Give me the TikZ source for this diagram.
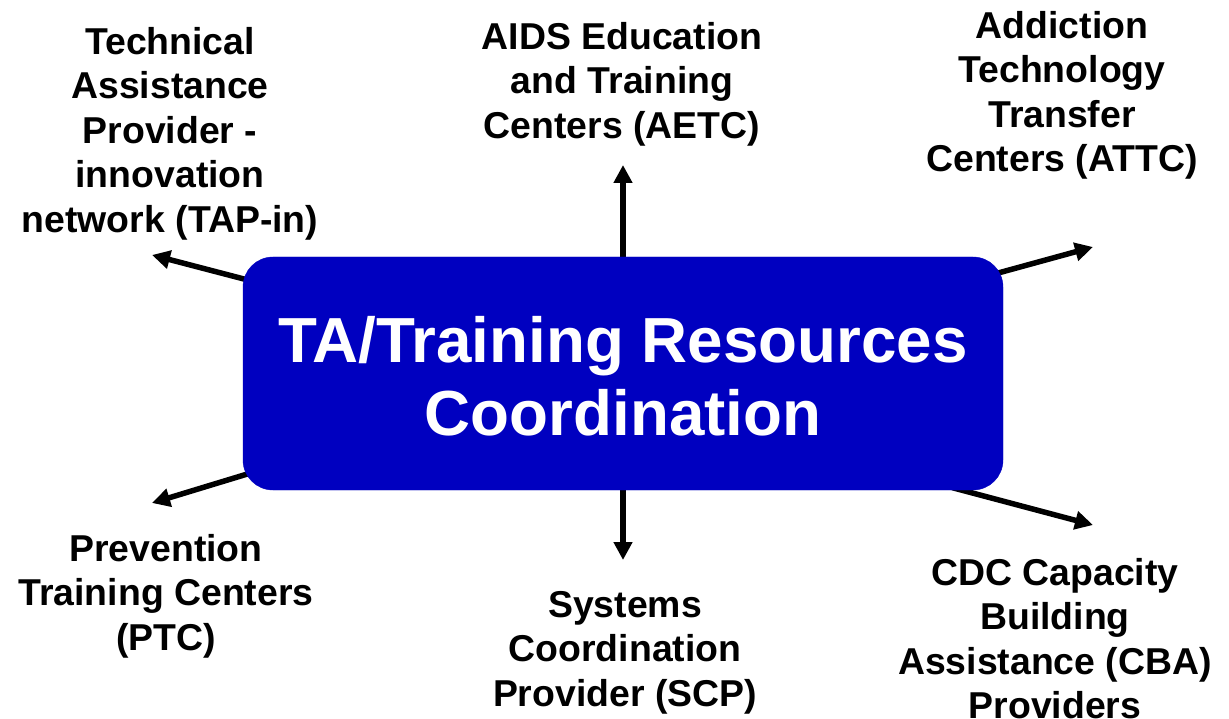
\documentclass[tikz,border=0pt]{standalone}
\usepackage{fontspec}
\setmainfont{Liberation Sans}
\usetikzlibrary{arrows.meta,backgrounds}
\definecolor{hubblue}{RGB}{0,0,192}

\tikzset{
  hubmap/.style={
    x=1pt, y=-1pt,
    every node/.style={inner sep=0pt, align=center, anchor=north,
        font=\fontsize{37.4}{44.5}\selectfont\bfseries},
    hub/.style={
        anchor=center,
        fill=hubblue,
        draw=hubblue,
        rounded corners=30pt,
        minimum width=760pt,
        minimum height=233pt,
        text height=125pt,
        text=white,
        font=\fontsize{63.7}{73}\selectfont\bfseries,
    },
    link/.style={
        line width=5.5pt,
        -{Triangle[length=18pt,width=18pt]},
        shorten <=-10pt,
    },
  }
}

\begin{document}
\begin{tikzpicture}[hubmap]
    \useasboundingbox (0,0) rectangle (1229,719);
    \node[hub] (hub) at (623,373.5) {TA/Training Resources\\Coordination};

    \node (tapin) at (170,27) {Technical\\Assistance\\Provider -\\innovation\\network (TAP-in)};
    \node (aetc) at (622,22) {AIDS Education\\and Training\\Centers (AETC)};
    \node (attc) at (1062,11) {Addiction\\Technology\\Transfer\\Centers (ATTC)};
    \node (ptc) at (166,534) {Prevention\\Training Centers\\(PTC)};
    \node (scp) at (625,591) {Systems\\Coordination\\Provider (SCP)};
    \node (cba) at (1055,558) {CDC Capacity\\Building\\Assistance (CBA)\\Providers};

    % arrow tips
    \coordinate (tapin tip) at (152,255);
    \coordinate (aetc tip) at (623,165);
    \coordinate (attc tip) at (1093,247);
    \coordinate (ptc tip) at (152,503);
    \coordinate (scp tip) at (623,560);
    \coordinate (cba tip) at (1093,525);

    \begin{scope}[on background layer]
        \draw[link] (hub.166.5) -- (tapin tip);
        \draw[link] (hub.north) -- (aetc tip);
        \draw[link] (hub.15.1) -- (attc tip);
        \draw[link] (hub.195.2) -- (ptc tip);
        \draw[link] (hub.south) -- (scp tip);
        \draw[link] (hub.341.4) -- (cba tip);
    \end{scope}
\end{tikzpicture}
\end{document}
